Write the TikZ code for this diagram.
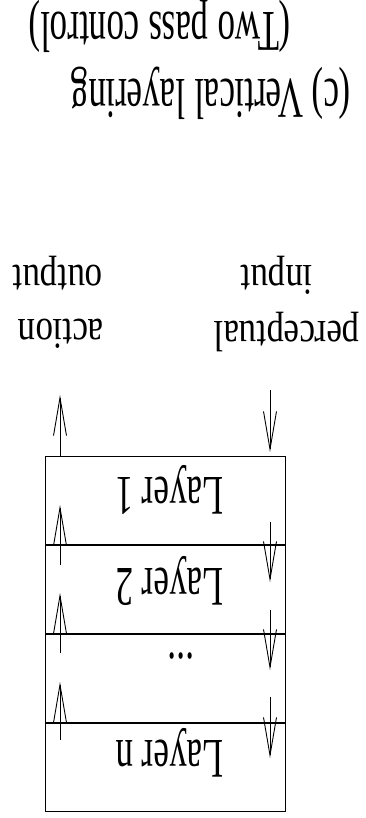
\documentclass[tikz,border=0pt]{standalone}
\usepackage{fontspec}
\setmainfont{Liberation Serif}
\usetikzlibrary{arrows.meta}
\begin{document}
\begin{tikzpicture}[x=1pt,y=1pt,
  txt/.style={rotate=180,anchor=base,inner sep=0pt,font=\fontsize{35}{40}\selectfont},
  lbl/.style={txt,yscale=1.25},
  lay/.style={txt,yscale=1.6},
  ttl/.style={txt,yscale=1.65},
  boxline/.style={line width=1.3pt},
  flow/.style={line width=0.9pt,-{Straight Barb[length=38pt,width=13pt,line width=0.9pt]}}]
\useasboundingbox (0,0) rectangle (366,-818);
% stack of layers
\node[draw,boxline,minimum width=240pt,minimum height=87.75pt,inner sep=0pt,anchor=north west] (r1) at (45,-456) {};
\node[draw,boxline,minimum width=240pt,minimum height=87.75pt,inner sep=0pt,anchor=north] (r2) at (r1.south) {};
\node[draw,boxline,minimum width=240pt,minimum height=87.75pt,inner sep=0pt,anchor=north] (r3) at (r2.south) {};
\node[draw,boxline,minimum width=240pt,minimum height=87.75pt,inner sep=0pt,anchor=north] (r4) at (r3.south) {};
\node[lay] (l1) at (170,-477) {Layer 1};
\node[lay] (l2) at (170,-568) {Layer 2};
\node[lay] (l3) at (181,-653) {...};
\node[lay] (l4) at (170,-740) {Layer n};
% labels
\node[lbl] (perc) at (287,-321) {perceptual};
\node[lbl] (inp) at (277,-265) {input};
\node[lbl] (act) at (61,-319) {action};
\node[lbl] (outp) at (58,-265) {output};
\node[ttl] (t1) at (211,-80) {(c) Vertical layering};
\node[ttl] (t2) at (160,-13) {(Two pass control)};
% arrow end points
\coordinate (ua0) at (60,-456); \coordinate (ub0) at (60,-395);
\coordinate (ua1) at (60,-565); \coordinate (ub1) at (60,-505);
\coordinate (ua2) at (60,-653); \coordinate (ub2) at (60,-593);
\coordinate (ua3) at (60,-740); \coordinate (ub3) at (60,-682);
\coordinate (da0) at (270,-390); \coordinate (db0) at (270,-452);
\coordinate (da1) at (270,-522); \coordinate (db1) at (270,-582);
\coordinate (da2) at (270,-610); \coordinate (db2) at (270,-670);
\coordinate (da3) at (270,-697); \coordinate (db3) at (270,-758);
\foreach \i in {0,1,2,3} {
  \draw[flow] (ua\i) -- (ub\i);
  \draw[flow] (da\i) -- (db\i);
}
\end{tikzpicture}
\end{document}
